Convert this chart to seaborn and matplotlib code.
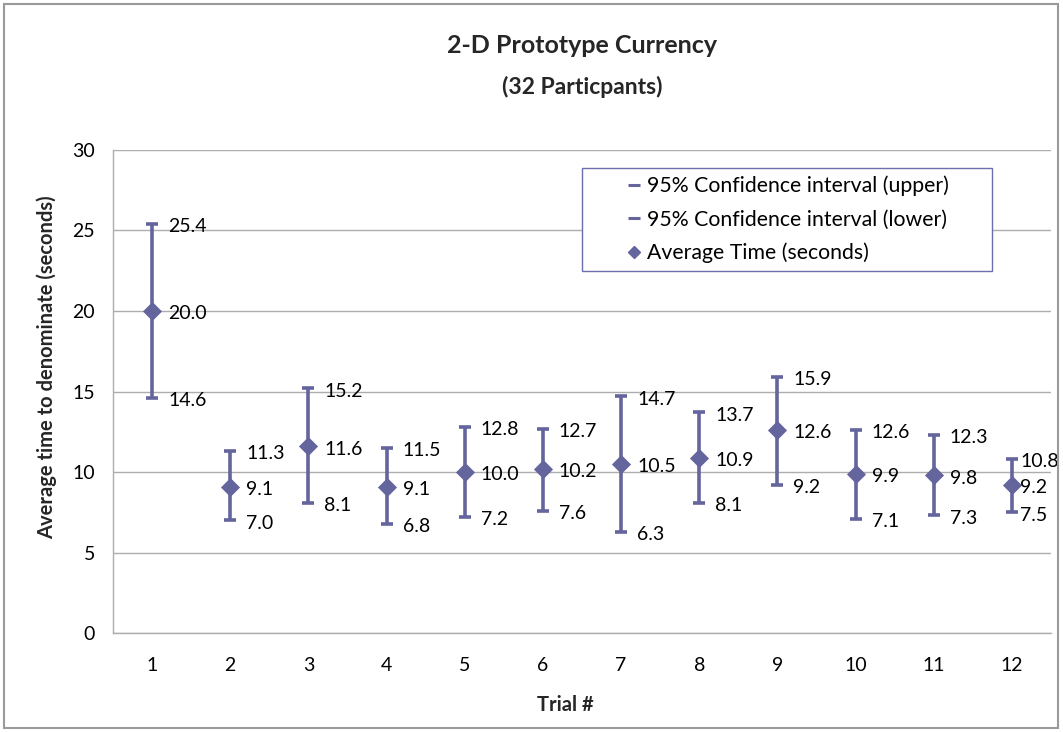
import matplotlib
matplotlib.use("Agg")
import matplotlib.pyplot as plt
import seaborn as sns
import pandas as pd
from matplotlib.patches import Rectangle
from matplotlib.lines import Line2D

# Per-trial timing results
trials = [1, 2, 3, 4, 5, 6, 7, 8, 9, 10, 11, 12]
avg_time = [20.0, 9.1, 11.6, 9.1, 10.0, 10.2, 10.5, 10.9, 12.6, 9.9, 9.8, 9.2]
ci_upper = [25.4, 11.3, 15.2, 11.5, 12.8, 12.7, 14.7, 13.7, 15.9, 12.6, 12.3, 10.8]
ci_lower = [14.6, 7.0, 8.1, 6.8, 7.2, 7.6, 6.3, 8.1, 9.2, 7.1, 7.3, 7.5]
y_ticks = [0, 5, 10, 15, 20, 25, 30]

series_names = ["95% Confidence interval (upper)",
                "95% Confidence interval (lower)",
                "Average Time (seconds)"]

df = pd.DataFrame({"trial": trials, "avg": avg_time,
                   "upper": ci_upper, "lower": ci_lower})

sns.set_style("white")
plt.rcParams["font.family"] = ["Lato", "DejaVu Sans"]

C = "#65659E"
GRID = "#ADADAD"

fig = plt.figure(figsize=(10.63, 7.32), dpi=100)
ax = fig.add_axes([0.1063, 0.1352, 0.8824, 0.6599])

# high-low lines between the interval bounds
ax.vlines(df["trial"], df["lower"], df["upper"], color=C, lw=2.6, zorder=3)

# interval caps and average markers
sns.scatterplot(data=df, x="trial", y="upper", marker="_", s=80,
                color=C, edgecolor=C, linewidth=2.6, ax=ax, zorder=4, legend=False)
sns.scatterplot(data=df, x="trial", y="lower", marker="_", s=80,
                color=C, edgecolor=C, linewidth=2.6, ax=ax, zorder=4, legend=False)
sns.scatterplot(data=df, x="trial", y="avg", marker="D", s=95,
                color=C, edgecolor=C, linewidth=0, ax=ax, zorder=5, legend=False)

# value labels to the right of each mark
label_fs = 14
for i, row in df.iterrows():
    dx = 6 if i == len(df) - 1 else 11.5
    for col in ("upper", "avg", "lower"):
        ax.annotate(f"{row[col]:.1f}", (row["trial"], row[col]),
                    xytext=(dx, -2), textcoords="offset points",
                    ha="left", va="center", fontsize=label_fs, color="black",
                    zorder=6)

ax.set_xlim(0.5, 12.5)
ax.set_ylim(0, 30)
ax.set_xticks(trials)
ax.set_xticklabels([str(t) for t in trials])
ax.set_yticks(y_ticks)
ax.set_yticklabels([str(t) for t in y_ticks])
ax.tick_params(axis="both", length=0, labelsize=14, colors="black")
ax.tick_params(axis="x", pad=17)
ax.tick_params(axis="y", pad=13)

ax.grid(axis="y", color=GRID, lw=1)
ax.set_axisbelow(True)
for side in ("top", "right"):
    ax.spines[side].set_visible(False)
for side in ("left", "bottom"):
    ax.spines[side].set_color(GRID)
    ax.spines[side].set_linewidth(1)

ax.set_xlabel("Trial #", fontsize=14.5, fontweight="bold")
ax.set_ylabel("Average time to denominate (seconds)", fontsize=14.5,
              fontweight="bold")
ax.xaxis.set_label_coords(0.482, -0.149)
ax.xaxis.label.set_va("center")
ax.yaxis.set_label_coords(-0.0704, 0.551)
ax.yaxis.label.set_va("center")

fig.text(0.548, 0.938, "2-D Prototype Currency", ha="center", va="center",
         fontsize=18, fontweight="bold")
fig.text(0.548, 0.881, "(32 Particpants)", ha="center", va="center",
         fontsize=16.5, fontweight="bold")

handles = [
    Line2D([], [], color=C, marker="_", markersize=9, markeredgewidth=2.2, linestyle="none"),
    Line2D([], [], color=C, marker="_", markersize=9, markeredgewidth=2.2, linestyle="none"),
    Line2D([], [], color=C, marker="D", markersize=6, linestyle="none"),
]
leg = ax.legend(handles, series_names, loc="upper left",
                bbox_to_anchor=(0.5, 0.9627, 0.437, 0.0), mode="expand",
                borderaxespad=0, fontsize=15.3, frameon=True, fancybox=False,
                framealpha=1, edgecolor="#6E6EAA", labelspacing=0.62,
                handlelength=4.2, handletextpad=-1.5, borderpad=0.36)
leg.get_frame().set_linewidth(1)
for t in leg.get_texts():
    t.set_color("black")

# outer chart border
fig.patches.append(Rectangle((0.004, 0.005), 0.991, 0.99, transform=fig.transFigure,
                             fill=False, edgecolor="#9A9A9A", lw=1.5))

fig.savefig("out.png", dpi=100)
